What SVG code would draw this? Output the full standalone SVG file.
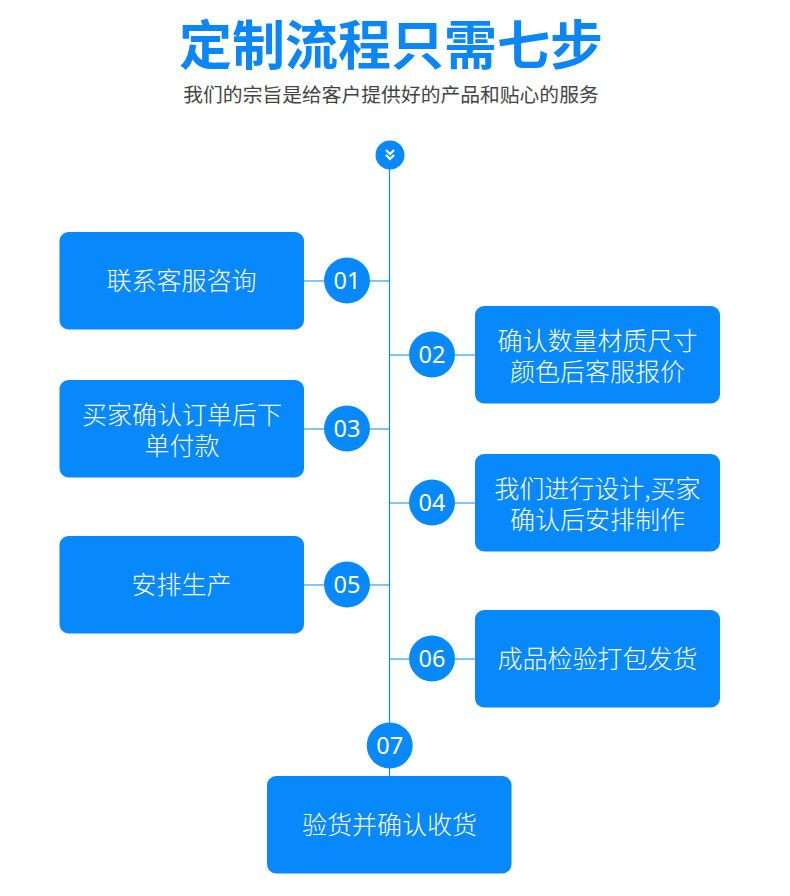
<svg xmlns="http://www.w3.org/2000/svg" width="790" height="896" viewBox="0 0 790 896">
<style>
.box{fill:#0788fb}
.bt{fill:#fff;font-family:"Noto Sans CJK SC","Noto Sans",sans-serif;font-size:25px;font-weight:300;text-anchor:middle}
.dot{fill:#0788fb}
.num{fill:#fff;font-family:"Noto Sans","Open Sans",sans-serif;font-size:23.5px;text-anchor:middle}
.ln{stroke:#0788fb;stroke-width:1.2;fill:none}
</style>
<rect width="790" height="896" fill="#fff"/>
<text x="391" y="65" text-anchor="middle" font-family="'Noto Sans CJK SC',sans-serif" font-weight="700" font-size="53" fill="#0a86f6">定制流程只需七步</text>
<text x="391" y="102" text-anchor="middle" font-family="'Noto Sans CJK SC',sans-serif" font-size="19.8" fill="#444">我们的宗旨是给客户提供好的产品和贴心的服务</text>
<g id="connectors">
<line class="ln" x1="389.5" y1="168" x2="389.5" y2="776"/>
<line class="ln" x1="304" y1="281" x2="390" y2="281"/>
<line class="ln" x1="389" y1="355" x2="475" y2="355"/>
<line class="ln" x1="304" y1="429" x2="390" y2="429"/>
<line class="ln" x1="389" y1="503" x2="475" y2="503"/>
<line class="ln" x1="304" y1="585" x2="390" y2="585"/>
<line class="ln" x1="389" y1="659" x2="475" y2="659"/>
</g>
<g id="start">
<circle class="dot" cx="390" cy="155" r="14.5"/>
<polyline points="386,150 390,154 394,150" fill="none" stroke="#fff" stroke-width="2.2"/>
<polyline points="386,155 390,159 394,155" fill="none" stroke="#fff" stroke-width="2.2"/>
</g>
<g id="step1">
<rect class="box" x="59.5" y="232" width="244.5" height="97.5" rx="9"/>
<text class="bt" x="181.5" y="290">联系客服咨询</text>
<circle class="dot" cx="347" cy="280.5" r="23"/>
<text class="num" x="347" y="289">01</text>
</g>
<g id="step2">
<rect class="box" x="475" y="306" width="245" height="97.5" rx="9"/>
<text class="bt" x="597.5" y="349.5">确认数量材质尺寸<tspan x="597.5" dy="31">颜色后客服报价</tspan></text>
<circle class="dot" cx="432" cy="354.5" r="23"/>
<text class="num" x="432" y="363">02</text>
</g>
<g id="step3">
<rect class="box" x="59.5" y="380" width="244.5" height="97.5" rx="9"/>
<text class="bt" x="182" y="423.5">买家确认订单后下<tspan x="182" dy="31">单付款</tspan></text>
<circle class="dot" cx="347" cy="428.5" r="23"/>
<text class="num" x="347" y="437">03</text>
</g>
<g id="step4">
<rect class="box" x="475" y="454" width="245" height="97.5" rx="9"/>
<text class="bt" x="597.5" y="497.5">我们进行设计,买家<tspan x="597.5" dy="31">确认后安排制作</tspan></text>
<circle class="dot" cx="432" cy="502.5" r="23"/>
<text class="num" x="432" y="511">04</text>
</g>
<g id="step5">
<rect class="box" x="59.5" y="536" width="244.5" height="97.5" rx="9"/>
<text class="bt" x="181.5" y="594">安排生产</text>
<circle class="dot" cx="347" cy="584.5" r="23"/>
<text class="num" x="347" y="593">05</text>
</g>
<g id="step6">
<rect class="box" x="475" y="610" width="245" height="97.5" rx="9"/>
<text class="bt" x="597.5" y="668">成品检验打包发货</text>
<circle class="dot" cx="432" cy="658.5" r="23"/>
<text class="num" x="432" y="667">06</text>
</g>
<g id="step7">
<rect class="box" x="267" y="776" width="244.5" height="97.5" rx="9"/>
<text class="bt" x="389.5" y="834">验货并确认收货</text>
<circle class="dot" cx="389.7" cy="745.5" r="23"/>
<text class="num" x="389.7" y="754">07</text>
</g>
</svg>
